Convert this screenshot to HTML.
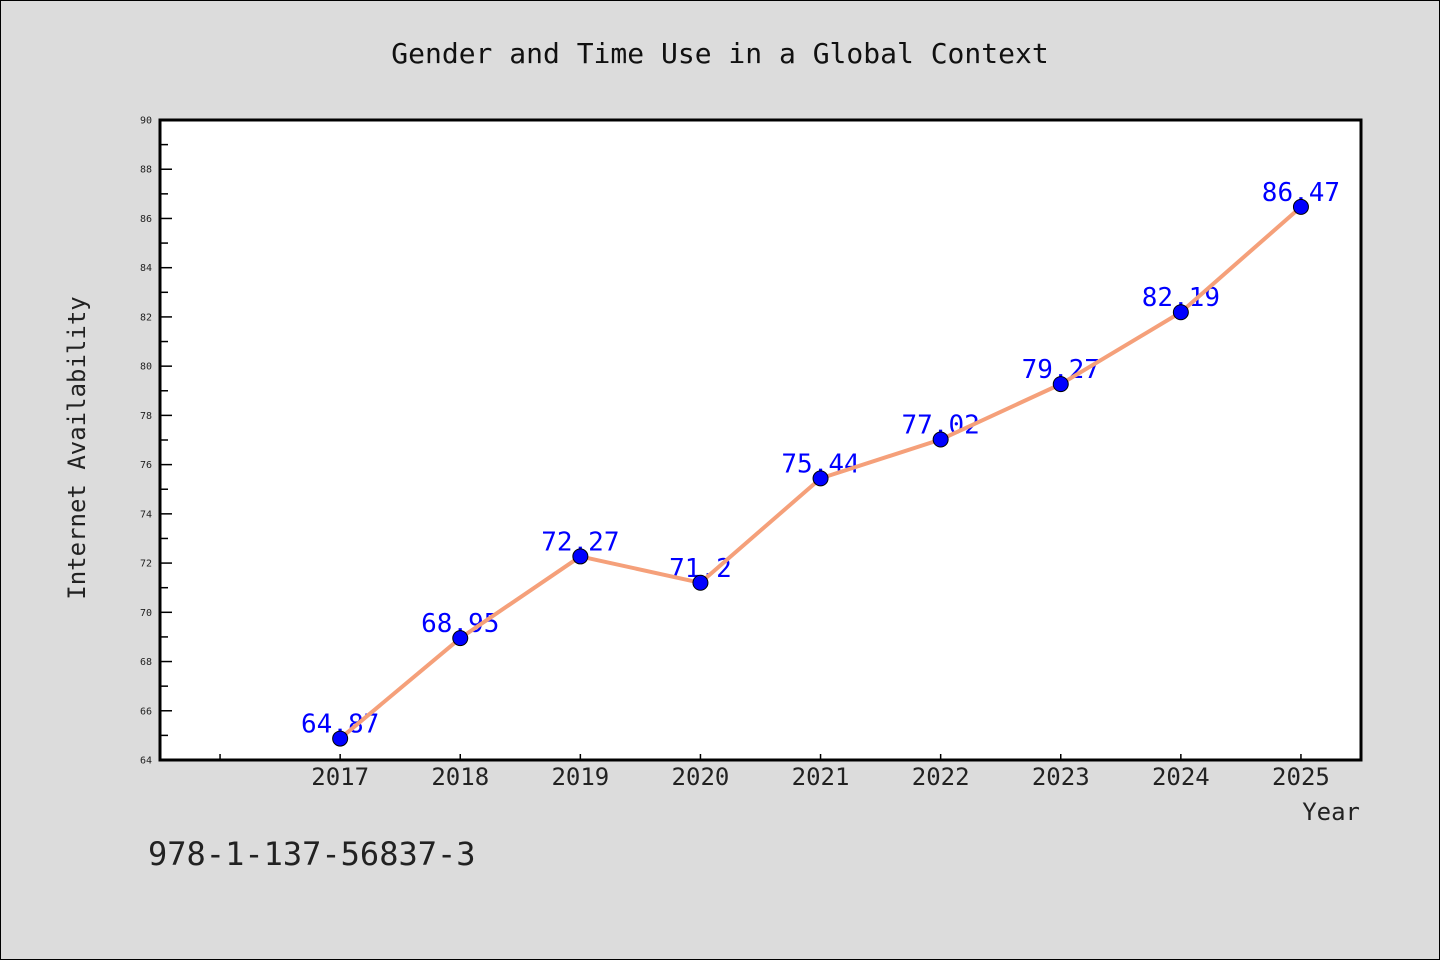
<!DOCTYPE html>
<html><head><meta charset="utf-8"><style>
html,body{margin:0;padding:0;background:#dcdcdc;}
svg{display:block;font-family:"WenQuanYi Zen Hei","DejaVu Sans Mono",monospace;}
</style></head><body>
<svg id="chart" width="1440" height="960" xmlns="http://www.w3.org/2000/svg">
<rect x="0.5" y="0.5" width="1439" height="959" fill="#dcdcdc" stroke="#000" stroke-width="1"/>
<text x="720" y="63" text-anchor="middle" font-size="28" fill="#111">Gender and Time Use in a Global Context</text>
<rect x="160" y="120" width="1201" height="640" fill="#fff"/>
<g id="axes"></g>
<g id="labels"></g>
<g id="series"></g>
<rect x="160" y="120" width="1201" height="640" fill="none" stroke="#000" stroke-width="3"/>
<text transform="translate(85,448) rotate(-90)" text-anchor="middle" font-size="24" fill="#222">Internet Availability</text>
<text x="1360" y="820" text-anchor="end" font-size="24" fill="#222">Year</text>
<text x="148" y="865" font-size="32" fill="#222">978-1-137-56837-3</text>
</svg>
<script>
const years = [2017,2018,2019,2020,2021,2022,2023,2024,2025];
const values = [64.87,68.95,72.27,71.2,75.44,77.02,79.27,82.19,86.47];
const valueLabels = ["64.87","68.95","72.27","71.2","75.44","77.02","79.27","82.19","86.47"];
const yTicks = [64,66,68,70,72,74,76,78,80,82,84,86,88,90];
const xTicks = [2016,2017,2018,2019,2020,2021,2022,2023,2024,2025];

const NS="http://www.w3.org/2000/svg";
const X0=160,X1=1361,Y0=760,Y1=120;
function xs(v){return X0+(v-2015.5)/(2025.5-2015.5)*(X1-X0);}
function ys(v){return Y0-(v-64)/(90-64)*(Y0-Y1);}
function mk(tag,attrs,parent){const e=document.createElementNS(NS,tag);for(const k in attrs)e.setAttribute(k,attrs[k]);parent.appendChild(e);return e;}
const axes=document.getElementById('axes'),labels=document.getElementById('labels'),series=document.getElementById('series');

yTicks.forEach((t,i)=>{
  const y=ys(t);
  const tk=mk('line',{x1:X0,x2:X0+12,y1:y,y2:y,stroke:'#000','stroke-width':1.5},axes);
  
  
  const tl=mk('text',{x:152,y:y+3.5,'text-anchor':'end','font-size':10,fill:'#222'},axes);
  tl.textContent=t;
  
  
  if(i<yTicks.length-1){
    const ym=ys(t+1);
    const mt=mk('line',{x1:X0,x2:X0+8,y1:ym,y2:ym,stroke:'#000','stroke-width':1.5},axes);
    
    
  }
});
xTicks.forEach(t=>{
  const x=xs(t);
  const tk=mk('line',{x1:x,x2:x,y1:Y0,y2:Y0-6,stroke:'#000','stroke-width':1.5},axes);
  
  
  if(years.includes(t)){
    const tl=mk('text',{x:x,y:785,'text-anchor':'middle','font-size':24,fill:'#222'},axes);
    tl.textContent=t;
    
    
  }
});
years.forEach((yr,i)=>{
  const l=mk('text',{x:xs(yr),y:ys(values[i])-6,'text-anchor':'middle','font-size':26,fill:'#0000ff'},labels);
  l.textContent=valueLabels[i];
  
  
});
const pts=years.map((yr,i)=>xs(yr)+','+ys(values[i])).join(' ');
const line=mk('polyline',{points:pts,fill:'none',stroke:'#f5a07a','stroke-width':4,'stroke-linejoin':'round'},series);


years.forEach((yr,i)=>{
  const c=mk('circle',{cx:xs(yr),cy:ys(values[i]),r:7.5,fill:'#0000ff',stroke:'#000','stroke-width':1},series);
  
  
});
</script>
</body></html>
